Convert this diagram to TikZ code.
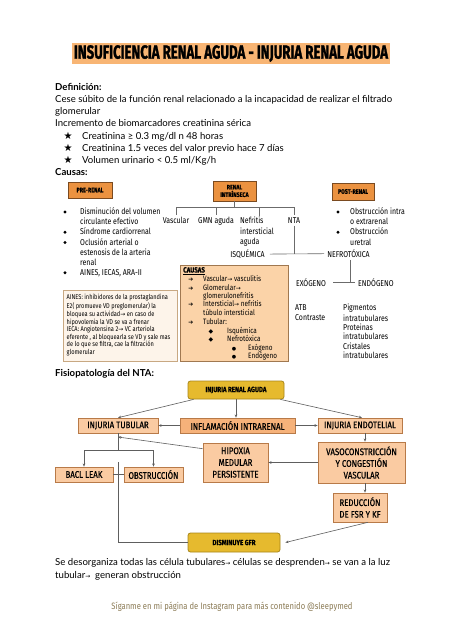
\documentclass[tikz,border=0pt]{standalone}
\usepackage{fontspec}
\usepackage{graphicx}
\usetikzlibrary{arrows.meta,calc}
\setmainfont{Lato}
\newfontfamily\cond[FakeStretch=0.82]{Fira Sans}
\newfontfamily\condm[FakeStretch=0.82,FakeBold=0.4]{Fira Sans}
\newfontfamily\titlef[FakeStretch=0.8,FakeBold=1.5]{Fira Sans}
\newfontfamily\dv{DejaVu Sans}
\definecolor{titlebg}{HTML}{F8B574}
\definecolor{hdrfill}{HTML}{EB9240}
\definecolor{hdrline}{HTML}{7A4A20}
\definecolor{treeline}{HTML}{6B6B6B}
\definecolor{causfill}{HTML}{FBD3A8}
\definecolor{causline}{HTML}{A07850}
\definecolor{ainfill}{HTML}{FDF4EA}
\definecolor{ainline}{HTML}{C8A882}
\definecolor{flowfill}{HTML}{FACBA2}
\definecolor{inflfill}{HTML}{F6B27A}
\definecolor{flowline}{HTML}{B87A48}
\definecolor{goldfill}{HTML}{E6BA2E}
\definecolor{goldline}{HTML}{A8861A}
\definecolor{arrline}{HTML}{5E5E5E}
\definecolor{footc}{HTML}{8B7B55}
\newcommand{\ar}{{\dv\fontsize{6}{7}\selectfont →}}
\tikzset{
  hdrbox/.style={draw=hdrline, fill=hdrfill, line width=0.8pt, inner sep=0, align=center, font=\condm\bfseries\fontsize{6.5}{7.5}\selectfont},
  lst/.style={inner sep=0, anchor=north west, align=left, font=\cond\fontsize{8.5}{10.1}\selectfont},
  lbl/.style={inner sep=2pt, anchor=base, font=\cond\fontsize{8.5}{10.1}\selectfont},
  body/.style={inner sep=0, anchor=base west, font=\fontsize{9.6}{11}\selectfont},
  bodyb/.style={inner sep=0, anchor=base west, font=\bfseries\fontsize{9.6}{11}\selectfont},
  tree/.style={draw=treeline, line width=0.6pt},
  flow/.style={draw=flowline, fill=flowfill, line width=0.6pt, inner sep=0, align=center, font=\condm\fontsize{9.6}{11.7}\selectfont},
  goldbox/.style={draw=goldline, fill=goldfill, rounded corners=2.5pt, line width=0.8pt, inner sep=0, align=center, font=\condm\bfseries\fontsize{7.5}{9}\selectfont},
  arr/.style={draw=arrline, line width=0.6pt, -{Stealth[length=3.2pt,width=2.6pt]}},
  dot/.style={circle, fill=black, inner sep=0, minimum size=3.2pt},
  cz/.style={inner sep=0, anchor=base west, font=\cond\fontsize{7.8}{8.5}\selectfont},
  czs/.style={inner sep=0, anchor=base, font=\dv\fontsize{6}{7}\selectfont},
}
\begin{document}
\begin{tikzpicture}[x=1pt,y=-1pt]
\useasboundingbox[fill=white] (0,0) rectangle (453,640);
% title
\node[fill=titlebg, inner sep=0, minimum width=318, minimum height=21] (title) at (231,53.5)
  {\resizebox{314pt}{13.5pt}{\titlef\bfseries INSUFICIENCIA RENAL AGUDA - INJURIA RENAL AGUDA}};
% definition text
\node[bodyb] (def) at (55,90) {Definición:};
\node[body] (cese) at (55,102.5) {Cese súbito de la función renal relacionado a la incapacidad de realizar el filtrado};
\node[body] (glom) at (55,114.3) {glomerular};
\node[body] (incr) at (55,126.3) {Incremento de biomarcadores creatinina sérica};
\node[inner sep=0, anchor=base, font=\dv\fontsize{10}{11}\selectfont] (s1) at (68,139) {★};
\node[inner sep=0, anchor=base, font=\dv\fontsize{10}{11}\selectfont] (s2) at (68,151.3) {★};
\node[inner sep=0, anchor=base, font=\dv\fontsize{10}{11}\selectfont] (s3) at (68,163.6) {★};
\node[body] (c1) at (82,139) {Creatinina ≥ 0.3 mg/dl n 48 horas};
\node[body] (c2) at (82,151.3) {Creatinina 1.5 veces del valor previo hace 7 días};
\node[body] (c3) at (82,163.6) {Volumen urinario < 0.5 ml/Kg/h};
\node[bodyb] (cau) at (55,175.5) {Causas:};
% header boxes
\node[hdrbox, minimum width=44, minimum height=16] (pre) at (90,190) {PRE-RENAL};
\node[hdrbox, minimum width=43, minimum height=20] (ri) at (234.5,191) {RENAL\\INTRÍNSECA};
\node[hdrbox, minimum width=42, minimum height=17] (post) at (353,191.5) {POST-RENAL};
% pre-renal list
\node[dot] (pd1) at (65,212) {};
\node[dot] (pd2) at (65,232.3) {};
\node[dot] (pd3) at (65,242.4) {};
\node[dot] (pd4) at (65,272.7) {};
\node[lst] (p1) at (80,207.4) {\strut Disminución del volumen\\circulante efectivo};
\node[lst] (p2) at (80,227.7) {\strut Síndrome cardiorrenal};
\node[lst] (p3) at (80,237.8) {\strut Oclusión arterial o\\estenosis de la arteria\\renal};
\node[lst] (p4) at (80,268.1) {\strut AINES, IECAS, ARA-II};
% post-renal list
\node[dot] (qd1) at (338,212) {};
\node[dot] (qd2) at (338,232.3) {};
\node[lst] (q1) at (350,207.4) {\strut Obstrucción intra\\o extrarenal};
\node[lst] (q2) at (350,227.7) {\strut Obstrucción\\uretral};
% intrinseca tree
\coordinate (t0) at (234.5,207);
\node[lbl] (vasc) at (176,223.5) {Vascular};
\node[lbl] (gmn) at (216,223.5) {GMN aguda};
\node[lst, font=\cond\fontsize{8.5}{10.5}\selectfont] (nef) at (240,216.4) {\strut Nefritis\\intersticial\\aguda};
\node[lbl] (nta) at (294,223.5) {NTA};
\node[lbl, inner xsep=5pt] (isq) at (247.5,257.5) {ISQUÉMICA};
\node[lbl, inner xsep=3pt] (nefro) at (348.5,257.5) {NEFROTÓXICA};
\node[lbl, inner xsep=7pt] (exo) at (311,286.5) {EXÓGENO};
\node[lbl, inner xsep=3pt] (endo2) at (376,286.5) {ENDÓGENO};
\coordinate (nefx) at ($(nef.north west)+(19,0)$);
\draw[tree] (ri.south) -- (t0);
\draw[tree] (vasc.north |- t0) -- (nta.north |- t0);
\draw[tree] (vasc.north |- t0) -- (vasc.north);
\draw[tree] (gmn.north |- t0) -- (gmn.north);
\draw[tree] (nefx |- t0) -- (nefx);
\draw[tree] (nta.north |- t0) -- (nta.north);
\draw[tree] (isq.east) -- (nefro.west);
\draw[tree] (nta.south) -- (nta.south |- isq.east);
\draw[tree] ($(nefro.south)+(2,0)$) coordinate (nfx) -- (nfx |- exo.east);
\draw[tree] (exo.east) -- (endo2.west);
\node[lst, font=\cond\fontsize{8.5}{10}\selectfont] (atb) at (295,303.4) {\strut ATB\\Contraste};
\node[lst, font=\cond\fontsize{8.5}{9.3}\selectfont] (pig) at (343,303.9) {\strut Pigmentos\\intratubulares\\Proteinas\\intratubulares\\Cristales\\intratubulares};
% AINES box
\node[draw=ainline, fill=ainfill, line width=0.6pt, minimum width=114, minimum height=71, inner sep=0] (aines) at (120,325.5) {};
\node[inner sep=0, anchor=north west, align=left, font=\cond\fontsize{6.9}{7.6}\selectfont] (aintxt) at (66.5,294.2)
 {\strut AINES: inhibidores de la prostaglandina\\E2( promueve VD preglomerular) la\\bloquea su actividad\ar{} en caso de\\hipovolemia la VD se va a frenar\\IECA: Angiotensina 2\ar{} VC arteriola\\eferente , al bloquearla se VD y sale mas\\de lo que se filtra, cae la filtración\\glomerular};
% CAUSAS box
\node[draw=causline, fill=causfill, line width=0.7pt, minimum width=108, minimum height=96, inner sep=0] (causbox) at (234,313) {};
\node[cz, font=\condm\bfseries\fontsize{7.5}{8}\selectfont] (cth) at (183,272.5) {\underline{CAUSAS}};
\node[czs] (ca1) at (191,281) {➔};
\node[czs] (ca2) at (191,290) {➔};
\node[czs] (ca3) at (191,306) {➔};
\node[czs] (ca4) at (191,324) {➔};
\node[cz] (ct1) at (203,281.5) {Vascular\ar{} vasculitis};
\node[cz] (ct2) at (203,290) {Glomerular\ar};
\node[cz] (ct3) at (203,298.5) {glomerulonefritis};
\node[cz] (ct4) at (203,306.5) {Intersticial\ar{} nefritis};
\node[cz] (ct5) at (203,315) {túbulo intersticial};
\node[cz] (ct6) at (203,324) {Tubular:};
\node[czs] (cd1) at (211,333) {◆};
\node[czs] (cd2) at (211,341.5) {◆};
\node[cz] (ct7) at (227,333) {Isquémica};
\node[cz] (ct8) at (227,341.5) {Nefrotóxica};
\node[czs, font=\dv\fontsize{5}{6}\selectfont] (cb1) at (234,350) {●};
\node[czs, font=\dv\fontsize{5}{6}\selectfont] (cb2) at (234,358.5) {●};
\node[cz] (ct9) at (248,350) {Exógeno};
\node[cz] (ct10) at (248,358.5) {Endógeno};
% fisiopatologia
\node[bodyb] (fis) at (55,376) {Fisiopatología del NTA:};
\node[goldbox, minimum width=96, minimum height=18] (ira) at (236,390) {INJURIA RENAL AGUDA};
\node[flow, minimum width=80, minimum height=15] (tub) at (118,425.5) {INJURIA TUBULAR};
\node[flow, fill=inflfill, minimum width=115, minimum height=15] (infl) at (237.5,425.5) {INFLAMACIÓN INTRARENAL};
\node[flow, minimum width=84, minimum height=15] (endo) at (360,425.5) {INJURIA ENDOTELIAL};
\node[flow, minimum width=58, minimum height=15] (bacl) at (84,474.5) {BACL LEAK};
\node[flow, minimum width=59, minimum height=15] (obst) at (153.5,474.5) {OBSTRUCCIÓN};
\node[flow, minimum width=65, minimum height=39] (hip) at (235.5,462.5) {HIPOXIA\\MEDULAR\\PERSISTENTE};
\node[flow, minimum width=87, minimum height=41] (vaso) at (361.5,462.5) {VASOCONSTRICCIÓN\\Y CONGESTIÓN\\VASCULAR};
\node[flow, minimum width=54, minimum height=29] (red) at (360,507.5) {REDUCCIÓN\\DE FSR Y KF};
\node[goldbox, minimum width=92, minimum height=19] (gfr) at (234,542.5) {DISMINUYE GFR};
\draw[arr] ($(ira.south west)+(6,0)$) -- (tub.north);
\draw[arr] (ira.south) -- (ira.south |- infl.north);
\draw[arr] ($(ira.south east)+(-4,0)$) -- ($(endo.north)+(2,0)$);
\draw[arr] (infl.west) -- (tub.east);
\draw[arr] (infl.east) -- (endo.west);
\coordinate (br) at (118,450);
\draw[tree, draw=arrline] (tub.south) -- (tub.south |- br);
\draw[arr] (tub.south |- br) -| (bacl.north);
\draw[arr] (tub.south |- br) -| (obst.north);
\coordinate (hj) at (118,437);
\draw[arr] ($(hip.north west)+(0,6)$) -- (tub.south |- hj);
\draw[tree, draw=arrline] (bacl.east) -- (obst.west);
\coordinate (vtop) at (118,462);
\draw[tree, draw=arrline] (vtop) -- (vtop |- gfr.west) -- (gfr.west);
\draw[arr] (vaso.west) -- (hip.east);
\coordinate (ex) at ($(endo.south)+(5,0)$);
\draw[arr] (ex) -- (ex |- vaso.north);
\coordinate (vx) at ($(vaso.south)+(3.5,0)$);
\draw[arr] (vx) -- (vx |- red.north);
\draw[arr] ($(red.south)+(8,0)$) -- ($(gfr.east)+(5,0)$);
% bottom text
\node[body] (b1) at (55,565) {Se desorganiza todas las célula tubulares\ar{} células se desprenden\ar{} se van a la luz};
\node[body] (b2) at (55,578) {tubular\ar{}\ \ generan obstrucción};
\node[inner sep=0, font=\cond\fontsize{9.3}{11}\selectfont, text=footc] (foot) at (232,607) {Síganme en mi página de Instagram para más contenido @sleepymed};
\end{tikzpicture}
\end{document}
